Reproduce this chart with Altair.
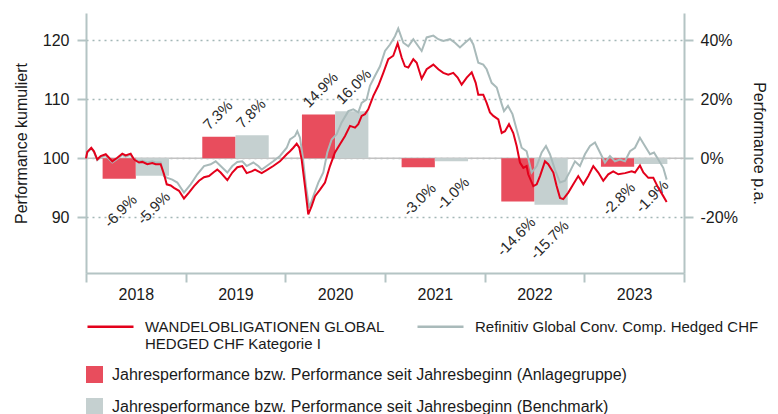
import altair as alt
import pandas as pd

# ---------------- data ----------------
years = [2018, 2019, 2020, 2021, 2022, 2023]
fund_yearly = [-6.9, 7.3, 14.9, -3.0, -14.6, -2.8]
bench_yearly = [-5.9, 7.8, 16.0, -1.0, -15.7, -1.9]

fund_t = [2018.000, 2018.013, 2018.053, 2018.080, 2018.113, 2018.147, 2018.198, 2018.231, 2018.264, 2018.314,
          2018.364, 2018.398, 2018.448, 2018.482, 2018.532, 2018.565, 2018.615, 2018.665, 2018.699, 2018.749,
          2018.783, 2018.810, 2018.850, 2018.883, 2018.933, 2018.983, 2019.033, 2019.084, 2019.134, 2019.184,
          2019.234, 2019.284, 2019.317, 2019.351, 2019.418, 2019.468, 2019.518, 2019.568, 2019.612, 2019.662,
          2019.696, 2019.729, 2019.763, 2019.813, 2019.879, 2019.946, 2020.014, 2020.047, 2020.080, 2020.114,
          2020.140, 2020.164, 2020.197, 2020.230, 2020.264, 2020.298, 2020.348, 2020.398, 2020.448, 2020.498,
          2020.548, 2020.599, 2020.649, 2020.699, 2020.732, 2020.766, 2020.799, 2020.832, 2020.883, 2020.933,
          2020.983, 2021.033, 2021.083, 2021.127, 2021.167, 2021.200, 2021.234, 2021.284, 2021.318, 2021.368,
          2021.418, 2021.485, 2021.535, 2021.585, 2021.635, 2021.685, 2021.729, 2021.769, 2021.820, 2021.870,
          2021.910, 2021.936, 2021.986, 2022.020, 2022.053, 2022.087, 2022.137, 2022.171, 2022.204, 2022.244,
          2022.287, 2022.321, 2022.354, 2022.388, 2022.421, 2022.437, 2022.488, 2022.522, 2022.555, 2022.605,
          2022.638, 2022.689, 2022.722, 2022.756, 2022.789, 2022.839, 2022.889, 2022.939, 2022.990, 2023.040,
          2023.090, 2023.140, 2023.190, 2023.240, 2023.290, 2023.341, 2023.408, 2023.475, 2023.508, 2023.558,
          2023.592, 2023.642, 2023.692, 2023.742, 2023.792, 2023.826]
fund_v = [100.0, 101.1, 101.8, 101.2, 99.8, 100.4, 100.7, 100.1, 99.5, 100.1,
          100.8, 100.5, 100.8, 99.8, 99.3, 99.4, 99.0, 99.2, 99.0, 99.0,
          97.3, 95.6, 95.4, 95.0, 94.5, 93.2, 94.2, 95.3, 96.2, 96.8,
          97.0, 97.7, 98.1, 97.6, 96.3, 97.6, 98.5, 98.7, 97.5, 97.8,
          98.1, 97.8, 97.5, 98.0, 98.7, 99.5, 100.7, 101.2, 101.8, 102.5,
          101.8, 99.8, 95.3, 90.5, 91.9, 93.6, 94.7, 95.9, 98.7, 101.0,
          102.4, 103.8, 105.5, 105.2, 105.8, 107.2, 107.5, 108.3, 110.6, 112.3,
          114.5, 116.8, 117.4, 119.5, 117.1, 115.6, 115.4, 116.8, 116.2, 113.5,
          115.1, 115.9, 115.1, 114.5, 114.2, 114.5, 113.7, 112.5, 113.7, 114.6,
          112.8, 110.8, 110.8, 109.4, 107.8, 107.2, 106.6, 104.3, 104.6, 105.8,
          104.3, 102.1, 99.3, 98.4, 98.7, 97.3, 95.3, 95.6, 97.0, 99.5,
          99.0, 97.6, 95.3, 93.3, 93.1, 94.2, 95.6, 97.0, 95.6, 97.0,
          98.7, 97.6, 96.2, 97.3, 97.8, 97.3, 97.5, 97.8, 97.6, 98.8,
          97.6, 96.7, 96.7, 95.0, 93.6, 92.6]

bench_t = [2018.000, 2018.013, 2018.053, 2018.080, 2018.113, 2018.147, 2018.198, 2018.231, 2018.264, 2018.314,
           2018.364, 2018.398, 2018.448, 2018.482, 2018.532, 2018.565, 2018.615, 2018.665, 2018.699, 2018.749,
           2018.783, 2018.816, 2018.866, 2018.916, 2018.983, 2019.050, 2019.117, 2019.184, 2019.251, 2019.301,
           2019.351, 2019.418, 2019.468, 2019.518, 2019.568, 2019.612, 2019.679, 2019.729, 2019.763, 2019.813,
           2019.879, 2019.946, 2020.014, 2020.047, 2020.097, 2020.120, 2020.147, 2020.174, 2020.207, 2020.240,
           2020.281, 2020.331, 2020.381, 2020.421, 2020.465, 2020.515, 2020.565, 2020.632, 2020.682, 2020.732,
           2020.766, 2020.816, 2020.849, 2020.900, 2020.950, 2021.000, 2021.050, 2021.100, 2021.133, 2021.184,
           2021.234, 2021.284, 2021.334, 2021.368, 2021.418, 2021.485, 2021.535, 2021.585, 2021.652, 2021.702,
           2021.752, 2021.803, 2021.853, 2021.886, 2021.936, 2021.986, 2022.020, 2022.070, 2022.121, 2022.171,
           2022.194, 2022.234, 2022.279, 2022.321, 2022.371, 2022.421, 2022.471, 2022.522, 2022.572, 2022.615,
           2022.655, 2022.705, 2022.756, 2022.806, 2022.856, 2022.906, 2022.956, 2023.006, 2023.057, 2023.107,
           2023.157, 2023.207, 2023.257, 2023.307, 2023.358, 2023.408, 2023.458, 2023.508, 2023.558, 2023.608,
           2023.659, 2023.699, 2023.742, 2023.792, 2023.826]
bench_v = [100.0, 101.0, 101.7, 101.1, 99.7, 100.2, 100.5, 99.9, 99.3, 99.9,
           100.6, 100.3, 100.6, 99.8, 99.5, 99.6, 99.3, 99.5, 99.3, 99.3,
           97.0, 96.7, 96.4, 95.9, 94.2, 95.6, 97.3, 98.7, 99.0, 99.5,
           98.7, 97.6, 98.7, 99.4, 99.5, 98.7, 99.3, 98.7, 98.1, 98.7,
           99.5, 100.4, 101.8, 103.2, 103.8, 104.6, 103.5, 100.4, 95.3, 91.6,
           93.6, 95.9, 97.6, 101.0, 103.2, 104.1, 106.1, 108.0, 108.3, 107.8,
           109.4, 110.0, 112.3, 114.0, 115.6, 118.2, 119.3, 120.7, 122.0, 119.6,
           119.0, 120.2, 119.0, 118.2, 120.5, 120.8, 120.2, 119.9, 120.2, 119.6,
           118.8, 119.6, 120.3, 119.3, 116.2, 115.9, 115.1, 112.8, 112.0, 109.2,
           108.0, 108.9, 107.5, 104.9, 101.8, 101.2, 97.6, 98.7, 101.0, 102.1,
           100.7, 98.1, 95.9, 96.2, 97.8, 99.5, 98.7, 100.7, 102.1, 102.7,
           101.0, 99.3, 100.4, 99.5, 99.8, 99.5, 101.2, 101.8, 103.5, 102.1,
           100.7, 101.0, 99.8, 98.4, 96.4]

FUND = "WANDELOBLIGATIONEN GLOBAL|HEDGED CHF Kategorie I"
BENCH = "Refinitiv Global Conv. Comp. Hedged CHF| "
BAR_F = "Jahresperformance bzw. Performance seit Jahresbeginn (Anlagegruppe)"
BAR_B = "Jahresperformance bzw. Performance seit Jahresbeginn (Benchmark)"

# colours
RED_LINE = "#E3001B"
GRAY_LINE = "#A9BABA"
RED_BAR = "#E84D5D"
GRAY_BAR = "#C5D0D0"
AXIS_COL = "#B4C4C4"
GRID_COL = "#A3B7B7"
TEXT_COL = "#1A1A1A"
FONT = "Liberation Sans"

# ---------------- frames ----------------
lines_df = pd.concat([
    pd.DataFrame({"t": fund_t, "v": fund_v, "series": FUND}),
    pd.DataFrame({"t": bench_t, "v": bench_v, "series": BENCH}),
])

bar_rows = []
for y, f, b in zip(years, fund_yearly, bench_yearly):
    bar_rows.append({"year": y, "x0": y + 1 / 6, "x1": y + 1 / 2, "value": f,
                     "series": BAR_F, "label": f"{f:.1f}%"})
    bar_rows.append({"year": y, "x0": y + 1 / 2, "x1": y + 5 / 6, "value": b,
                     "series": BAR_B, "label": f"{b:.1f}%"})
bars_df = pd.DataFrame(bar_rows)

# ---------------- scales / axes ----------------
x_scale = alt.Scale(domain=[2018, 2024], nice=False, zero=False)
x_axis = alt.Axis(values=[2018, 2019, 2020, 2021, 2022, 2023, 2024], title=None, grid=False,
                  labelExpr="datum.value < 2024 ? format(datum.value, 'd') : ''",
                  labelOffset=49.8, labelPadding=4, labelFlush=False, labelOverlap=False)

left_scale = alt.Scale(domain=[80.57, 124.64], nice=False, zero=False)
right_scale = alt.Scale(domain=[-38.86, 49.28], nice=False, zero=False)

left_axis = alt.Axis(orient="left", values=[90, 100, 110, 120], title="Performance kumuliert",
                     grid=True, gridDash=[2, 4], gridColor=GRID_COL, gridWidth=1.5,
                     labelPadding=8, titlePadding=13)
right_axis = alt.Axis(orient="right", values=[-20, 0, 20, 40], title="Performance p.a.",
                      labelExpr="datum.value + '%'", grid=False, labelPadding=7, titlePadding=13)

stroke_scale = alt.Scale(domain=[FUND, BENCH], range=[RED_LINE, GRAY_LINE])
fill_scale = alt.Scale(domain=[BAR_F, BAR_B], range=[RED_BAR, GRAY_BAR])

line_legend = alt.Legend(title=None, orient="none", legendX=0, legendY=289, direction="horizontal",
                         columns=2, symbolType="stroke", symbolSize=2116, symbolStrokeWidth=2.5,
                         labelOffset=10, columnPadding=27, labelLimit=500, padding=0,
                         labelFontSize=15, labelExpr="split(datum.label, '|')")
fill_legend = alt.Legend(title=None, orient="none", legendX=0, legendY=353, direction="vertical",
                         symbolType="square", symbolSize=289, symbolStrokeWidth=0, labelOffset=9,
                         rowPadding=15, labelLimit=700, padding=0)

# ---------------- right (percent) group ----------------
zero_rule = alt.Chart(pd.DataFrame({"z": [0]})).mark_rule(color="#C2C2C2", strokeWidth=1.5).encode(
    y=alt.Y("z:Q", scale=right_scale, axis=right_axis)
)

bars = alt.Chart(bars_df).mark_bar().encode(
    x=alt.X("x0:Q", scale=x_scale, axis=x_axis),
    x2="x1:Q",
    y=alt.Y("value:Q", scale=right_scale, axis=right_axis),
    y2=alt.datum(0),
    fill=alt.Fill("series:N", scale=fill_scale, legend=fill_legend),
)

pos_text = alt.Chart(bars_df).transform_filter("datum.value > 0").mark_text(
    align="left", baseline="alphabetic", angle=315, dx=9.2, dy=0.7,
    font=FONT, fontSize=15, color="#2A2A2A"
).encode(
    x=alt.X("x0:Q", scale=x_scale, axis=x_axis),
    y=alt.Y("value:Q", scale=right_scale, axis=right_axis),
    text="label:N",
)

neg_text = alt.Chart(bars_df).transform_filter("datum.value < 0").mark_text(
    align="right", baseline="alphabetic", angle=315, dx=-14.1, dy=17.0,
    font=FONT, fontSize=15, color="#2A2A2A"
).encode(
    x=alt.X("x1:Q", scale=x_scale, axis=x_axis),
    y=alt.Y("value:Q", scale=right_scale, axis=right_axis),
    text="label:N",
)

right_group = alt.layer(zero_rule, bars, pos_text, neg_text)

# ---------------- left (index) group ----------------
gray_line = alt.Chart(lines_df).transform_filter(alt.datum.series == BENCH).mark_line(strokeWidth=2).encode(
    x=alt.X("t:Q", scale=x_scale, axis=x_axis),
    y=alt.Y("v:Q", scale=left_scale, axis=left_axis),
    stroke=alt.Stroke("series:N", scale=stroke_scale, legend=line_legend),
)
red_line = alt.Chart(lines_df).transform_filter(alt.datum.series == FUND).mark_line(strokeWidth=2).encode(
    x=alt.X("t:Q", scale=x_scale, axis=x_axis),
    y=alt.Y("v:Q", scale=left_scale, axis=left_axis),
    stroke=alt.Stroke("series:N", scale=stroke_scale, legend=line_legend),
)
left_group = alt.layer(gray_line, red_line)

chart = alt.layer(right_group, left_group).resolve_scale(y="independent").properties(
    width=598, height=260,
    autosize=alt.AutoSizeParams(type="none"),
    padding={"left": 78, "top": 5, "right": 86, "bottom": 141},
).configure_view(stroke=None).configure_axis(
    domainColor=AXIS_COL, domainWidth=2, tickColor=AXIS_COL, tickWidth=2, tickSize=9,
    labelFont=FONT, labelFontSize=16, labelColor=TEXT_COL,
    titleFont=FONT, titleFontSize=16, titleFontWeight="normal", titleColor=TEXT_COL,
).configure_legend(
    labelFont=FONT, labelFontSize=16, labelColor=TEXT_COL,
)

chart.save("out.html", embed_options={"renderer": "svg", "actions": False})
